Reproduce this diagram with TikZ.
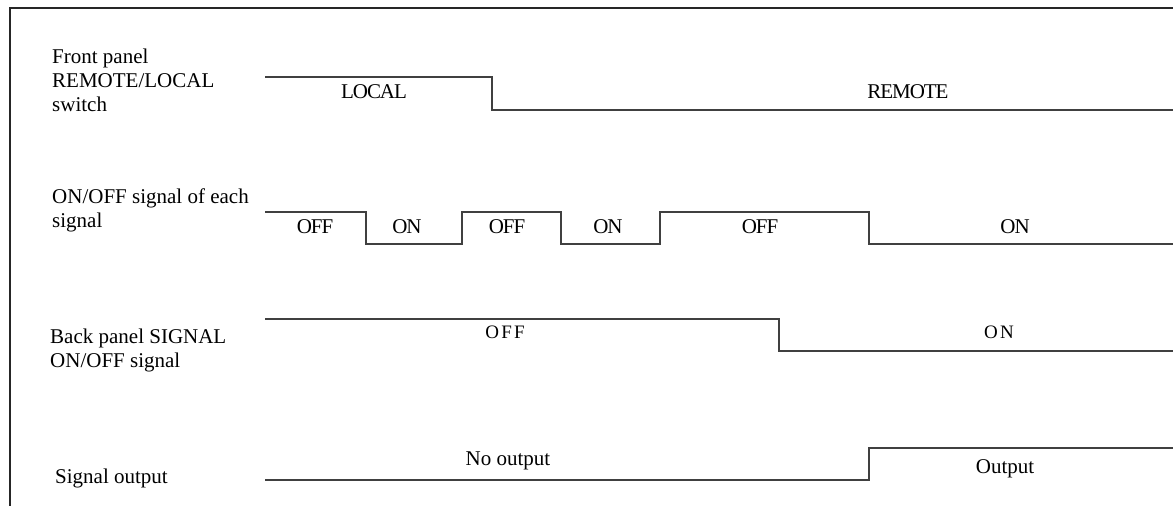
\documentclass[tikz,border=0pt]{standalone}
\usepackage{fontspec}
\setmainfont{Liberation Serif}
\begin{document}
\begin{tikzpicture}[x=1pt,y=-1pt,
  lbl/.style={anchor=base west, inner sep=0pt, font=\fontsize{21}{24}\selectfont},
  tight/.style={anchor=base, inner sep=0pt, font=\fontsize{21}{24}\selectfont\addfontfeature{LetterSpace=-5}},
  wide/.style={anchor=base, inner sep=0pt, font=\fontsize{19}{24}\selectfont\addfontfeature{LetterSpace=12}},
  plain/.style={anchor=base, inner sep=0pt, font=\fontsize{21}{24}\selectfont},
  wave/.style={line width=1.3pt, draw=black!75},
  frame/.style={line width=2pt, draw=black!85}]
\useasboundingbox (0,0) rectangle (1173,506);
% frame
\draw[frame] (10,506) -- (10,8) -- (1173,8);
% row labels
\node[lbl] (fp1) at (52,63) {Front panel};
\node[lbl] (fp2) at (52,87) {REMOTE/LOCAL};
\node[lbl] (fp3) at (52,111) {switch};
\node[lbl] (os1) at (52,203) {ON/OFF signal of each};
\node[lbl] (os2) at (52,227) {signal};
\node[lbl] (bp1) at (50,343) {Back panel SIGNAL};
\node[lbl] (bp2) at (50,367) {ON/OFF signal};
\node[lbl] (so1) at (55,483) {Signal output};
% waveforms
\draw[wave] (265,77) -- (492,77) -- (492,110) -- (1173,110);
\draw[wave] (265,212) -- (366,212) -- (366,244) -- (462,244) -- (462,212)
  -- (561,212) -- (561,244) -- (660,244) -- (660,212) -- (869,212)
  -- (869,244) -- (1173,244);
\draw[wave] (265,319) -- (779,319) -- (779,351) -- (1173,351);
\draw[wave] (265,480) -- (869,480) -- (869,448) -- (1173,448);
% state texts
\node[tight] (t1) at (374,98) {LOCAL};
\node[tight] (t2) at (908,98) {REMOTE};
\node[tight] (s1) at (315,233) {OFF};
\node[tight] (s2) at (407,233) {ON};
\node[tight] (s3) at (507,233) {OFF};
\node[tight] (s4) at (608,233) {ON};
\node[tight] (s5) at (760,233) {OFF};
\node[tight] (s6) at (1015,233) {ON};
\node[wide] (b1) at (505,338) {OFF};
\node[wide] (b2) at (999,338) {ON};
\node[plain] (o1) at (508,465) {No output};
\node[plain] (o2) at (1005,473) {Output};
\end{tikzpicture}
\end{document}
